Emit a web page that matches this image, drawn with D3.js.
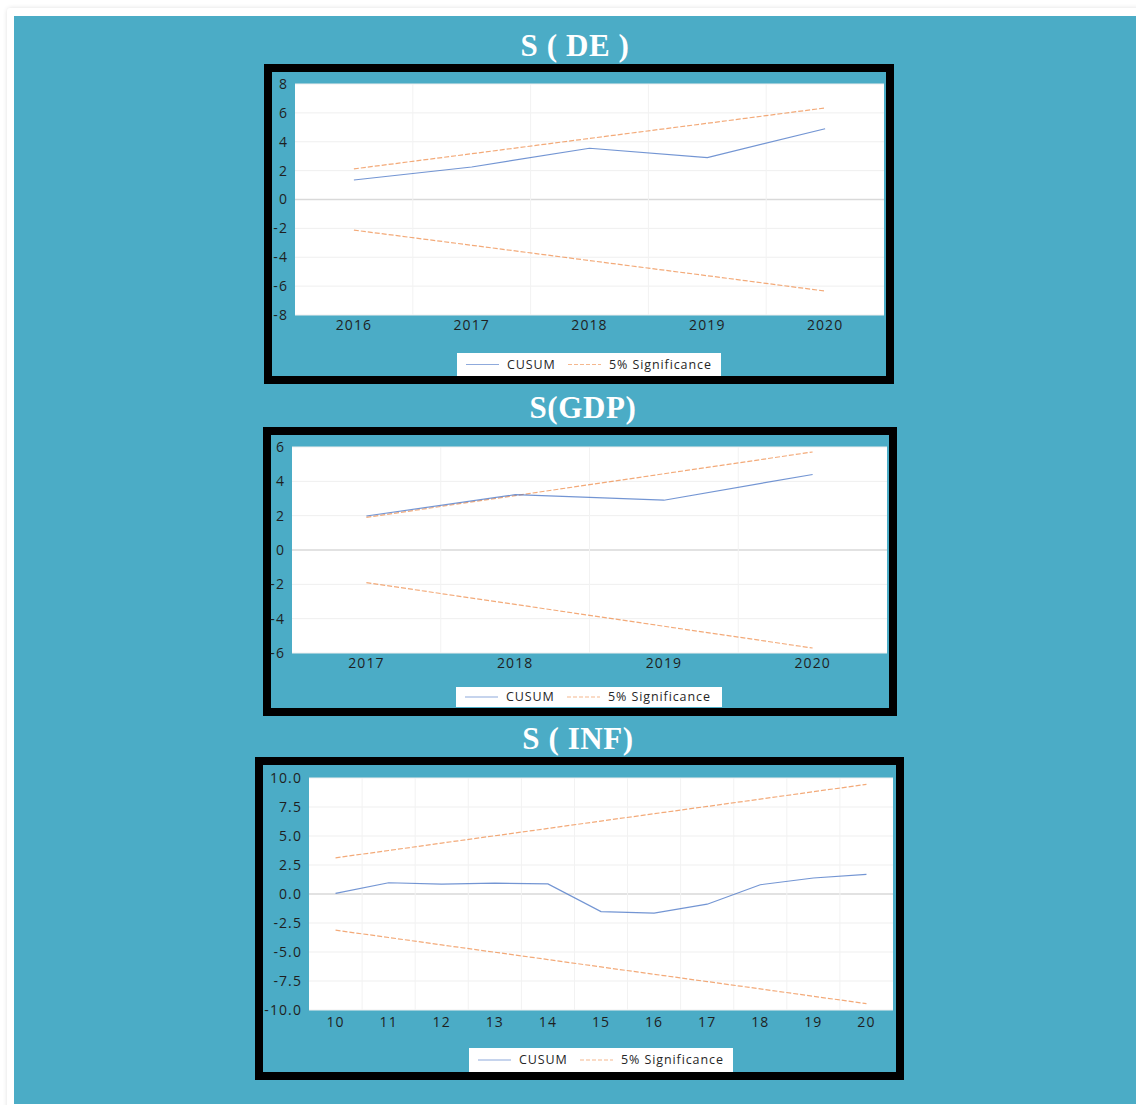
<!DOCTYPE html>
<html>
<head>
<meta charset="utf-8">
<script src="https://cdn.jsdelivr.net/npm/d3@7"></script>
<style>
  html, body { margin: 0; padding: 0; background: #ffffff; }
  svg { display: block; }
</style>
</head>
<body>
<svg id="chart" width="1136" height="1105"></svg>
<script>
// CUSUM stability test results, one panel per model
const deYears = ["2016", "2017", "2018", "2019", "2020"];
const deCusum = [1.35, 2.25, 3.55, 2.9, 4.9];
const deUpper = [2.12, 3.17, 4.23, 5.28, 6.34];
const deLower = [-2.12, -3.17, -4.23, -5.28, -6.34];
const deTicks = [-8, -6, -4, -2, 0, 2, 4, 6, 8];

const gdpYears = ["2017", "2018", "2019", "2020"];
const gdpCusum = [1.98, 3.22, 2.9, 4.4];
const gdpUpper = [1.9, 3.17, 4.44, 5.71];
const gdpLower = [-1.9, -3.17, -4.44, -5.71];
const gdpTicks = [-6, -4, -2, 0, 2, 4, 6];

const infPeriods = ["10", "11", "12", "13", "14", "15", "16", "17", "18", "19", "20"];
const infCusum = [0.05, 0.97, 0.85, 0.93, 0.87, -1.52, -1.65, -0.88, 0.8, 1.38, 1.7];
const infUpper = [3.12, 3.75, 4.39, 5.02, 5.65, 6.29, 6.92, 7.55, 8.18, 8.82, 9.45];
const infLower = [-3.12, -3.75, -4.39, -5.02, -5.65, -6.29, -6.92, -7.55, -8.18, -8.82, -9.45];
const infTicks = [-10, -7.5, -5, -2.5, 0, 2.5, 5, 7.5, 10];

const seriesNames = ["CUSUM", "5% Significance"];

const TEAL = "#4bacc6";
const BLUE = "#4472c4";
const ORANGE = "#ed7d31";

const svg = d3.select("#chart");

// ASCII hyphen for negative tick values
const hyphenate = fmt => v => fmt(v).replace("\u2212", "-");

// page card and its teal panel
const defs = svg.append("defs");
const shadow = defs.append("filter").attr("id", "cardShadow")
  .attr("x", "-5%").attr("y", "-5%").attr("width", "110%").attr("height", "110%");
shadow.append("feDropShadow").attr("dx", 0).attr("dy", 0).attr("stdDeviation", 2)
  .attr("flood-color", "#000").attr("flood-opacity", 0.12);

svg.append("rect").attr("x", 7).attr("y", 8).attr("width", 1140).attr("height", 1110)
  .attr("rx", 4).attr("fill", "#fff").attr("filter", "url(#cardShadow)");
svg.append("rect").attr("x", 14).attr("y", 16).attr("width", 1122).attr("height", 1088)
  .attr("fill", TEAL);

function drawPanel(cfg) {
  const g = svg.append("g");

  // title
  g.append("text")
    .attr("x", cfg.title.x).attr("y", cfg.title.y)
    .attr("text-anchor", "middle")
    .attr("font-family", "'Liberation Serif', 'Times New Roman', serif")
    .attr("font-weight", "bold")
    .attr("font-size", 31)
    .attr("letter-spacing", 0.6)
    .attr("fill", "#ffffff")
    .text(cfg.title.text);

  // black frame
  const fw = 8;
  g.append("rect")
    .attr("x", cfg.frame.x + fw / 2).attr("y", cfg.frame.y + fw / 2)
    .attr("width", cfg.frame.w - fw).attr("height", cfg.frame.h - fw)
    .attr("fill", "none").attr("stroke", "#000").attr("stroke-width", fw);

  const p = cfg.plot;
  const x = d3.scaleBand().domain(cfg.cats).range([p.x, p.x + p.w]).padding(0);
  const y = d3.scaleLinear().domain([cfg.ticks[0], cfg.ticks[cfg.ticks.length - 1]])
    .range([p.y + p.h, p.y]);

  // plot background
  g.append("rect").attr("x", p.x).attr("y", p.y).attr("width", p.w).attr("height", p.h)
    .attr("fill", "#fff");

  // horizontal gridlines
  g.append("g").selectAll("line").data(cfg.ticks).join("line")
    .attr("x1", p.x).attr("x2", p.x + p.w)
    .attr("y1", d => y(d)).attr("y2", d => y(d))
    .attr("stroke", d => d === 0 ? "#d9d9d9" : "#efefef")
    .attr("stroke-width", d => d === 0 ? 1.3 : 1);

  // vertical gridlines at category boundaries
  g.append("g").selectAll("line").data(cfg.cats.slice(1)).join("line")
    .attr("x1", d => x(d)).attr("x2", d => x(d))
    .attr("y1", p.y).attr("y2", p.y + p.h)
    .attr("stroke", "#f2f2f2").attr("stroke-width", 1);

  // y axis labels
  const yAxis = d3.axisLeft(y).tickValues(cfg.ticks).tickSize(0).tickPadding(7)
    .tickFormat(hyphenate(cfg.yFormat));
  const ya = g.append("g").attr("transform", `translate(${p.x},0)`).call(yAxis);
  ya.select(".domain").remove();
  ya.selectAll("text").attr("font-size", 14).attr("letter-spacing", 1.1)
    .attr("font-family", "'Open Sans', sans-serif").attr("fill", "#1f1f1f");

  // x axis labels
  const xAxis = d3.axisBottom(x).tickSize(0).tickPadding(cfg.xPad);
  const xa = g.append("g").attr("transform", `translate(0,${p.y + p.h})`).call(xAxis);
  xa.select(".domain").remove();
  xa.selectAll("text").attr("font-size", 14).attr("letter-spacing", 1.1)
    .attr("font-family", "'Open Sans', sans-serif").attr("fill", "#1f1f1f");

  const line = d3.line()
    .x((d, i) => x(cfg.cats[i]) + x.bandwidth() / 2)
    .y(d => y(d));

  // significance bounds
  [cfg.upper, cfg.lower].forEach(arr => {
    g.append("path").datum(arr)
      .attr("d", line).attr("fill", "none")
      .attr("stroke", ORANGE).attr("stroke-width", 1.2)
      .attr("stroke-dasharray", "5,2").attr("stroke-opacity", 0.65);
  });

  // CUSUM
  g.append("path").datum(cfg.cusum)
    .attr("d", line).attr("fill", "none")
    .attr("stroke", BLUE).attr("stroke-width", 1.2).attr("stroke-opacity", 0.75);

  // legend
  const L = cfg.legend;
  const lg = g.append("g").attr("transform", `translate(${L.x},${L.y})`);
  lg.append("rect").attr("width", L.w).attr("height", L.h).attr("fill", "#fff");
  const cy = L.h / 2;
  lg.append("line").attr("x1", 9).attr("x2", 42).attr("y1", cy).attr("y2", cy)
    .attr("stroke", BLUE).attr("stroke-width", 1.1).attr("stroke-opacity", 0.6);
  lg.append("line").attr("x1", 111).attr("x2", 144).attr("y1", cy).attr("y2", cy)
    .attr("stroke", ORANGE).attr("stroke-width", 1.1).attr("stroke-opacity", 0.55)
    .attr("stroke-dasharray", "4,2");
  [[50, seriesNames[0]], [152, seriesNames[1]]].forEach(([tx, label]) => {
    lg.append("text").attr("x", tx).attr("y", cy).attr("dy", "0.35em")
      .attr("font-family", "'Open Sans', sans-serif").attr("font-size", 12.5)
      .attr("letter-spacing", 0.9).attr("fill", "#262626").text(label);
  });
}

drawPanel({
  title: { x: 575, y: 56, text: "S ( DE )" },
  frame: { x: 264, y: 64, w: 630, h: 320 },
  plot: { x: 295, y: 84, w: 589, h: 231 },
  legend: { x: 457, y: 353, w: 264, h: 23 },
  cats: deYears, cusum: deCusum, upper: deUpper, lower: deLower, ticks: deTicks,
  yFormat: d3.format("d"), xPad: 5
});

drawPanel({
  title: { x: 583, y: 418, text: "S(GDP)" },
  frame: { x: 263, y: 427, w: 634, h: 289 },
  plot: { x: 292, y: 447, w: 595, h: 206 },
  legend: { x: 456, y: 687, w: 266, h: 20 },
  cats: gdpYears, cusum: gdpCusum, upper: gdpUpper, lower: gdpLower, ticks: gdpTicks,
  yFormat: d3.format("d"), xPad: 5
});

drawPanel({
  title: { x: 578, y: 749, text: "S ( INF)" },
  frame: { x: 255, y: 757, w: 649, h: 323 },
  plot: { x: 309, y: 778, w: 584, h: 232 },
  legend: { x: 469, y: 1048, w: 264, h: 24 },
  cats: infPeriods, cusum: infCusum, upper: infUpper, lower: infLower, ticks: infTicks,
  yFormat: d3.format(".1f"), xPad: 7
});
</script>
</body>
</html>
